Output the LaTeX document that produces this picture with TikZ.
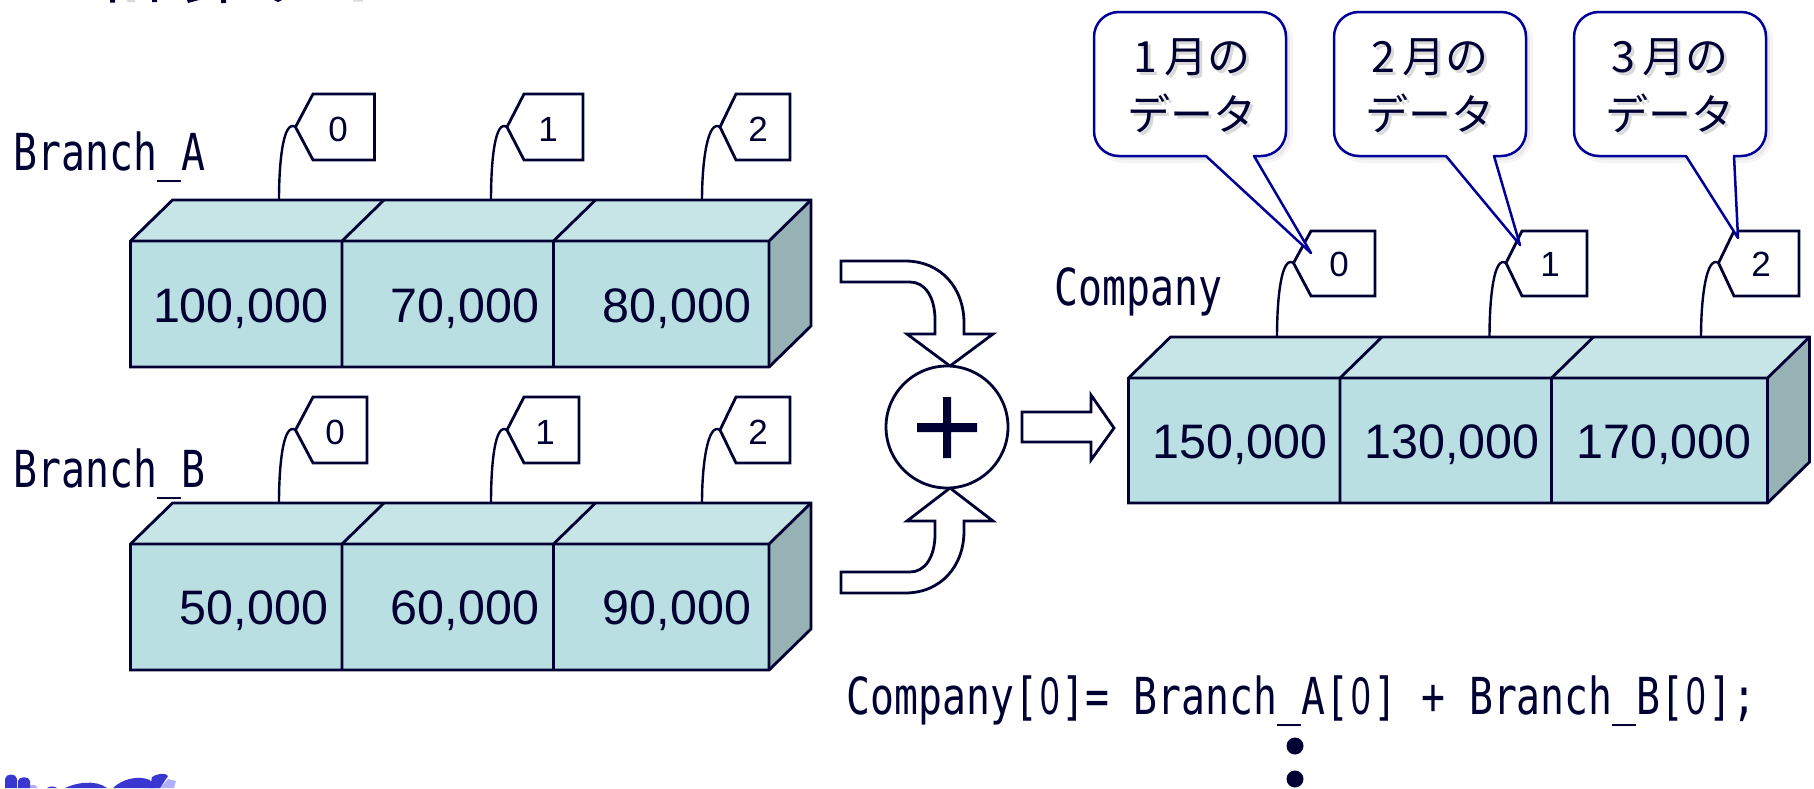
\documentclass[tikz,border=0pt]{standalone}
\usepackage{fontspec}
\setmainfont{Liberation Sans}
\newfontfamily\gothic[FakeStretch=0.78]{DejaVu Sans Mono}
\newfontfamily\gothiczero[FakeStretch=0.66]{Liberation Sans}
\newfontfamily\cjkfont{Noto Sans CJK JP}
\usetikzlibrary{calc}
\definecolor{ink}{HTML}{000033}
\definecolor{frontc}{HTML}{B9DFE2}
\definecolor{topc}{HTML}{C7E4E7}
\definecolor{sidec}{HTML}{97B2B4}
\definecolor{navy}{HTML}{000099}
\definecolor{logoc}{HTML}{3A36D0}
\definecolor{logos}{HTML}{B0B0FF}
\newcommand{\zr}{\makebox[11.97pt]{\gothiczero\fontsize{26.5}{28}\selectfont 0}}
\tikzset{
  x=0.5pt,y=-0.5pt,
  edge/.style={draw=ink,line width=1.4pt,line join=miter},
  leader/.style={draw=ink,line width=1.2pt},
  valtext/.style={font=\fontsize{24.2}{28}\selectfont,text=ink,inner sep=0pt},
  idxtext/.style={font=\fontsize{17.5}{20}\selectfont,text=ink,inner sep=0pt},
  code/.style={font=\gothic\fontsize{25.5}{28}\selectfont,text=ink,inner sep=0pt,anchor=base west},
  tagbox/.style={edge,fill=white},
  bubble/.style={draw=navy,line width=1.25pt,fill=white,line join=round},
  bubbleshadow/.style={fill=black,fill opacity=0.05,draw=black,draw opacity=0.04,line width=3pt},
  jptext/.style={font=\cjkfont\fontsize{21.5}{24}\selectfont,text=ink,inner sep=0pt},
  jpshadow/.style={font=\cjkfont\fontsize{21.5}{24}\selectfont,text=black!15,inner sep=0pt},
  bigarrow/.style={edge,fill=white},
}
% #1 name; #2,#3,#4,#5 front x; #6 back offset; #7 back top y; #8 front top y; #9 front bottom y
\newcommand{\crate}[9]{%
  \coordinate (#1f0) at (#2,#8); \coordinate (#1f1) at (#3,#8); \coordinate (#1f2) at (#4,#8); \coordinate (#1f3) at (#5,#8);
  \coordinate (#1b0) at (#2+#6,#7); \coordinate (#1b1) at (#3+#6,#7); \coordinate (#1b2) at (#4+#6,#7); \coordinate (#1b3) at (#5+#6,#7);
  \coordinate (#1g0) at (#2,#9); \coordinate (#1g1) at (#3,#9); \coordinate (#1g2) at (#4,#9); \coordinate (#1g3) at (#5,#9);
  \coordinate (#1h3) at (#5+#6,#9-#8+#7);
  \fill[topc] (#1f0) -- (#1b0) -- (#1b3) -- (#1f3) -- cycle;
  \fill[frontc] (#1f0) -- (#1f3) -- (#1g3) -- (#1g0) -- cycle;
  \fill[sidec] (#1f3) -- (#1b3) -- (#1h3) -- (#1g3) -- cycle;
  \draw[edge] (#1f0) -- (#1b0) -- (#1b3) -- (#1h3) -- (#1g3) -- (#1g0) -- cycle;
  \draw[edge] (#1f0) -- (#1f3) -- (#1b3) (#1f3) -- (#1g3);
  \draw[edge] (#1f1) -- (#1b1) (#1f1) -- (#1g1) (#1f2) -- (#1b2) (#1f2) -- (#1g2);
}
% #1 name; #2 point x; #3 top-left x; #4 right x; #5 top y; #6 mid y; #7 bottom y; #8 leader x; #9 leader y
\newcommand{\tagflag}[9]{%
  \coordinate (#1p) at (#2,#6); \coordinate (#1foot) at (#8,#9);
  \draw[tagbox] (#1p) -- (#3,#5) -- (#4,#5) -- (#4,#7) -- (#3,#7) -- cycle;
  \draw[leader] (#1foot) .. controls ($(#1foot)+(0,-40)$) and ($(#1p)+(-12,-8)$) .. (#1p);
}
% #1 left x
\newcommand{\bodypath}[1]{(#1+25,12) -- (#1+167,12) .. controls (#1+181,12) and (#1+192,23) .. (#1+192,37) -- (#1+192,131) .. controls (#1+192,145) and (#1+181,156) .. (#1+167,156) -- (#1+25,156) .. controls (#1+11,156) and (#1,145) .. (#1,131) -- (#1,37) .. controls (#1,23) and (#1+11,12) .. (#1+25,12) -- cycle}
% #1 name, #2 left x, #3 tip x, #4 tip y
\newcommand{\callout}[4]{%
  \path[bubbleshadow,xshift=2pt,yshift=-2pt] \bodypath{#2};
  \coordinate (#1tip) at (#3,#4);
  \draw[bubble] (#2+25,12) -- (#2+167,12) .. controls (#2+181,12) and (#2+192,23) .. (#2+192,37) -- (#2+192,131) .. controls (#2+192,145) and (#2+181,156) .. (#2+167,156) -- (#2+160,156) -- (#1tip) -- (#2+112,156) -- (#2+25,156) .. controls (#2+11,156) and (#2,145) .. (#2,131) -- (#2,37) .. controls (#2,23) and (#2+11,12) .. (#2+25,12) -- cycle;
}
\begin{document}
\begin{tikzpicture}
\useasboundingbox (0,0) rectangle (1814,788);
\fill[white] (0,0) rectangle (1814,788);

% clipped remains at the picture's top edge
\fill[ink] (110,0) rectangle (115,2.5) (152,0) rectangle (157,2) (187,0) -- (199,0) -- (188,3) -- cycle
  (221,0) rectangle (226,3) (274,0) -- (282,0) -- (278,2) -- cycle;
\fill[ink!15] (127,0) rectangle (135,2) (353,0) rectangle (363,1.5);

% clipped logo at the bottom-left corner
\fill[logos] (30,788) -- (30,785) -- (35,785) -- (38,788) -- cycle;
\fill[logos] (160,788) -- (168,779) -- (176,781) -- (174,788) -- cycle;
\fill[logoc] (5,788) -- (5,779) .. controls (5,773) and (17,773) .. (17,779) -- (17,788) -- cycle;
\fill[logoc] (18,788) -- (18,781) .. controls (18,776) and (30,776) .. (30,781) -- (30,788) -- cycle;
\fill[logoc] (47,788) .. controls (49,786) and (55,786) .. (57,788) -- cycle;
\fill[logoc] (65,788) .. controls (75,783) and (95,779) .. (107,788) -- cycle;
\fill[logoc] (113,788) .. controls (122,779) and (138,775) .. (150,780) -- (154,788) -- cycle;
\fill[logoc] (150,788) -- (152,777) .. controls (156,774) and (166,772) .. (168,776) -- (160,788) -- cycle;

% index tags, drawn under the callouts
\tagflag{a0}{295.5}{313}{374.5}{94}{127}{160}{279}{200}
\tagflag{a1}{507}{524}{583}{94}{127}{160}{491}{200}
\tagflag{a2}{720}{736}{790}{94}{127}{160}{702}{200}
\tagflag{b0}{295.5}{313}{367}{397}{430}{463}{279}{503}
\tagflag{b1}{507}{524}{579}{397}{430}{463}{491}{503}
\tagflag{b2}{720}{736}{790}{397}{430}{463}{702}{503}
\tagflag{c0}{1293.5}{1311}{1375}{231}{263}{296}{1277}{337}
\tagflag{c1}{1506}{1522}{1587}{231}{263}{296}{1489.5}{337}
\tagflag{c2}{1718.5}{1734}{1799}{231}{263}{296}{1701}{337}

\node[idxtext] (ta0) at (338,129) {0};
\node[idxtext] (ta1) at (548,129) {1};
\node[idxtext] (ta2) at (758,129) {2};
\node[idxtext] (tb0) at (335,432) {0};
\node[idxtext] (tb1) at (545,432) {1};
\node[idxtext] (tb2) at (758,432) {2};
\node[idxtext] (tc0) at (1339,264) {0};
\node[idxtext] (tc1) at (1550,264) {1};
\node[idxtext] (tc2) at (1761,264) {2};

% storage blocks
\crate{a}{130.5}{342}{553.5}{769}{42}{200}{241}{367}
\crate{b}{130.5}{342}{553.5}{769}{42}{503}{544}{670}
\crate{c}{1128.5}{1340}{1551.5}{1767.5}{42}{337}{378}{503}

\node[valtext] (va0) at (240.5,309) {100,000};
\node[valtext] (va1) at (465,309) {70,000};
\node[valtext] (va2) at (677,309) {80,000};
\node[valtext] (vb0) at (254,611) {50,000};
\node[valtext] (vb1) at (465,611) {60,000};
\node[valtext] (vb2) at (677,611) {90,000};
\node[valtext] (vc0) at (1240,445) {150,000};
\node[valtext] (vc1) at (1452,445) {130,000};
\node[valtext] (vc2) at (1664,445) {170,000};

% variable names
\node[code] (na) at (13,170) {Branch\_A};
\node[code] (nb) at (13,487) {Branch\_B};
\node[code] (nc) at (1054,305) {Company};
\node[code] (eq) at (846,714) {Company[\zr]= Branch\_A[\zr] + Branch\_B[\zr];};

% arrows and adder
\draw[bigarrow] (841,261) -- (905,261) .. controls (941,261) and (964,288) .. (964,323) -- (964,334) -- (993,334)
  -- (950,366) -- (907,334) -- (935,334) -- (935,320) .. controls (935,297) and (925,282) .. (910,282) -- (841,282) -- cycle;
\draw[bigarrow] (841,593) -- (905,593) .. controls (941,593) and (964,566) .. (964,531) -- (964,521) -- (993,521)
  -- (950,488) -- (907,521) -- (935,521) -- (935,534) .. controls (935,557) and (925,572) .. (910,572) -- (841,572) -- cycle;
\node[circle,edge,fill=white,minimum size=61pt,inner sep=0pt] (adder) at (947,427) {};
\fill[ink] (917,423) rectangle (977,432) (943,397) rectangle (951,458);
\draw[bigarrow] (1022,412) -- (1091,412) -- (1091,395) -- (1114,428) -- (1091,460) -- (1091,442) -- (1022,442) -- cycle;

% callouts
\callout{ka}{1094}{1311}{253}
\callout{kb}{1334}{1520}{245}
\callout{kc}{1574}{1738}{238}

\node[jpshadow] at (1195,60) {1\,月の};
\node[jpshadow] at (1195,116) {データ};
\node[jptext] (j1a) at (1192,57) {1\,月の};
\node[jptext] (j1b) at (1192,113) {データ};
\node[jpshadow] at (1433,60) {2\,月の};
\node[jpshadow] at (1433,116) {データ};
\node[jptext] (j2a) at (1430,57) {2\,月の};
\node[jptext] (j2b) at (1430,113) {データ};
\node[jpshadow] at (1673,60) {3\,月の};
\node[jpshadow] at (1673,116) {データ};
\node[jptext] (j3a) at (1670,57) {3\,月の};
\node[jptext] (j3b) at (1670,113) {データ};

% ellipsis dots
\fill[ink] (1295,746) circle[radius=8.5] (1295,779) circle[radius=8.5];
\end{tikzpicture}
\end{document}
